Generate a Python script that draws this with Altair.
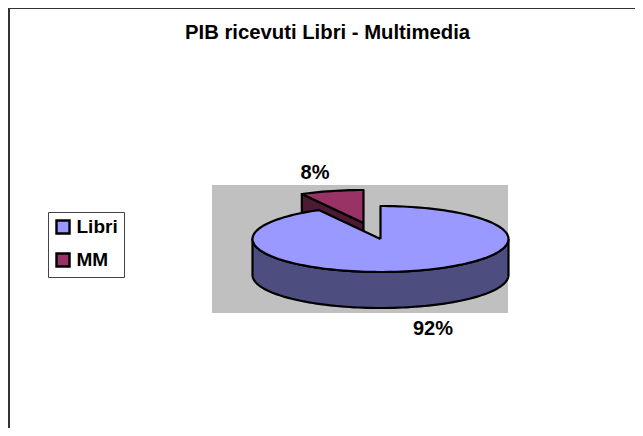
import math
import altair as alt
import pandas as pd

categories = ["Libri", "MM"]
shares = [92, 8]
labels = ["92%", "8%"]
top_colors = ["#9999ff", "#993366"]
side_colors = ["#4d4d80", "#4d1a33"]

W, H = 627, 420
CX, CY = 372.5, 231      # centre of the big slice, chart pixels
RX, RY = 128, 33
DEPTH = 36
EXPLODE = (-17, -16)
BLACK = "#000000"


def rim(start, end, dx=0, dy=0):
    n = max(2, int(abs(end - start) / 2))
    pts = []
    for i in range(n + 1):
        a = math.radians(start + (end - start) * i / n)
        pts.append((CX + dx + RX * math.sin(a), CY + dy - RY * math.cos(a)))
    return pts


def frame(name, pts):
    pts = pts + [pts[0]]
    return pd.DataFrame({"x": [p[0] for p in pts], "y": [p[1] for p in pts],
                         "i": range(len(pts)), "serie": name})


sweep_mm = 360 * shares[1] / sum(shares)
ex, ey = EXPLODE
apex_mm = (CX + ex, CY + ey)

mm_top = [apex_mm] + rim(-sweep_mm, 0, ex, ey)
a_mm = mm_top[1]
mm_side = [apex_mm, a_mm, (a_mm[0], a_mm[1] + DEPTH), (apex_mm[0], apex_mm[1] + DEPTH)]
main_top = [(CX, CY)] + rim(0, 360 - sweep_mm)
main_side = rim(90, 270) + [(x, y + DEPTH) for x, y in reversed(rim(90, 270))]

xs = alt.Scale(domain=[0, W], range=[0, W], nice=False, zero=False)
ys = alt.Scale(domain=[0, H], range=[0, H], nice=False, zero=False)
X = alt.X("x:Q", scale=xs, axis=None)
Y = alt.Y("y:Q", scale=ys, axis=None)
fill_enc = alt.Fill(
    "serie:N",
    scale=alt.Scale(domain=categories, range=top_colors),
    legend=alt.Legend(
        title=None, orient="none", legendX=40, legendY=204,
        fillColor="#ffffff", strokeColor="#444444", padding=5.5,
        symbolType="square", symbolSize=170, symbolStrokeColor=BLACK,
        symbolStrokeWidth=2.4, labelFont="Liberation Sans", labelFontWeight="bold",
        labelFontSize=19, labelColor=BLACK, rowPadding=10, labelOffset=4,
    ),
)


def poly(df, fill=None):
    base = alt.Chart(df)
    if fill is None:
        return base.mark_line(stroke=BLACK, strokeWidth=2.2, strokeJoin="round").encode(
            x=X, y=Y, order="i:Q", fill=fill_enc)
    return base.mark_line(stroke=BLACK, strokeWidth=2.2, strokeJoin="round", fill=fill).encode(
        x=X, y=Y, order="i:Q")


frame_df = pd.DataFrame({"x": [W, 1, 1], "y": [0, 0, H], "i": [0, 1, 2]})
border = alt.Chart(frame_df).mark_line(stroke="#333333", strokeWidth=2).encode(x=X, y=Y, order="i:Q")

bg_df = pd.DataFrame({"x": [204], "x2": [500], "y": [177], "y2": [305]})
bg = alt.Chart(bg_df).mark_rect(color="#c0c0c0").encode(x=X, x2="x2:Q", y=Y, y2="y2:Q")

label_df = pd.DataFrame({
    "x": [425, 307],
    "y": [CY + 90, CY - 66],
    "t": labels,
})
text = alt.Chart(label_df).mark_text(
    font="Liberation Sans", fontWeight="bold", fontSize=20, color=BLACK
).encode(x=X, y=Y, text="t:N")

chart = alt.layer(
    bg, border,
    poly(frame("MM", mm_side), side_colors[1]),
    poly(frame("MM", mm_top)),
    poly(frame("Libri", main_side), side_colors[0]),
    poly(frame("Libri", main_top)),
    text,
).properties(
    width=W, height=H,
    padding=0,
    autosize=alt.AutoSizeParams(type="none"),
    title=alt.TitleParams(
        "PIB ricevuti Libri - Multimedia",
        font="Liberation Sans", fontWeight="bold", fontSize=20.3, color=BLACK,
        anchor="start", offset=-39, dx=177, frame="group",
    ),
).configure_view(stroke=None)

chart.save("out.html", embed_options={"renderer": "svg", "actions": False})
